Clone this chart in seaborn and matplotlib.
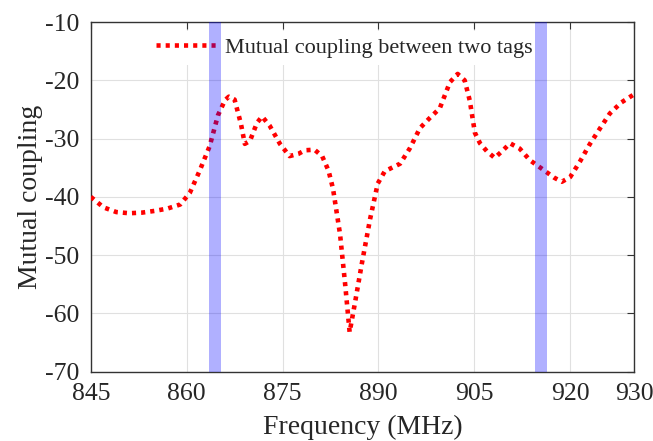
import numpy as np
import pandas as pd
import matplotlib
matplotlib.use("Agg")
import matplotlib.pyplot as plt
import seaborn as sns

# frequency (MHz) and mutual coupling
freq = [845, 847, 849, 851, 853, 855, 857, 859, 860.5, 862, 863.6, 864.9, 866, 866.6,
        867.5, 868.5, 869.1, 869.9, 871, 871.8, 873, 874.6, 876.1, 877.5, 878.5, 880,
        881.2, 882.2, 882.9, 884, 884.8, 885.5, 886.3, 887.4, 888.7, 889.9, 891, 893.4,
        894.9, 896.5, 898, 899.6, 901.2, 902.4, 903.5, 904.3, 905.1, 905.9, 907, 908.2,
        909.5, 910.6, 912.1, 913.7, 916, 917.5, 918.7, 920, 921.5, 923.1, 924.7, 926.2,
        928, 930]
coupling = [-40, -41.8, -42.6, -42.8, -42.7, -42.4, -42, -41.3, -39.3, -35.6, -31.3,
            -26, -23.4, -22.8, -23.3, -27.5, -30.9, -30.4, -27.3, -26.2, -27.8, -30.9,
            -33, -32.6, -32, -31.9, -33, -35.5, -38.6, -46.4, -55, -63.2, -58.4, -51.5,
            -43.8, -37.7, -35.6, -34.3, -31.7, -28.2, -26.5, -24.8, -20.3, -18.9, -20,
            -23.5, -29, -30.8, -32.2, -33.3, -32, -30.8, -31.7, -33.7, -35.5, -36.7,
            -37.4, -36.6, -34, -30.9, -28.2, -25.7, -23.8, -22.4]

bands = [(863.5, 865.3), (914.5, 916.4)]
xticks = [845, 860, 875, 890, 905, 920, 930]
yticks = [-70, -60, -50, -40, -30, -20, -10]

df = pd.DataFrame({"freq": freq, "coupling": coupling})

sns.set_style("white")
plt.rcParams["font.family"] = ["Liberation Serif", "DejaVu Serif"]
plt.rcParams["axes.unicode_minus"] = False
plt.rcParams["xtick.direction"] = "in"
plt.rcParams["ytick.direction"] = "in"

fig = plt.figure(figsize=(6.53, 4.41), dpi=100)
ax = fig.add_axes([0.139, 0.157, 0.832, 0.793])

sns.lineplot(data=df, x="freq", y="coupling", ax=ax, color="red", lw=3.3,
             label="Mutual coupling between two tags", zorder=3)
ax.lines[0].set_dashes((0.9, 1.1))

# shaded bands sit on top of everything, semi transparent
for lo, hi in bands:
    ax.axvspan(lo, hi, color="blue", alpha=0.31, zorder=10, lw=0)

ax.set_xlim(845, 930)
ax.set_ylim(-70, -10)
ax.set_xticks(xticks)
ax.set_yticks(yticks)
ax.grid(True, color="#e0e0e0", lw=0.8, zorder=0)
ax.set_axisbelow(True)
ax.tick_params(labelsize=18.5, length=5, width=0.8, color="#333333",
               top=True, right=True)
ax.tick_params(axis="x", pad=8)
ax.tick_params(axis="y", pad=8)
for s in ax.spines.values():
    s.set_color("#333333")
    s.set_linewidth(1.0)

ax.set_xlabel("Frequency (MHz)", fontsize=20, labelpad=7)
ax.set_ylabel("Mutual coupling", fontsize=20, labelpad=2)

leg = ax.legend(loc="center", bbox_to_anchor=(0.467, 0.927), fontsize=16,
                frameon=True, fancybox=False, handlelength=2.8, handletextpad=0.3,
                borderpad=0.3)
leg.get_frame().set_edgecolor("none")
leg.get_frame().set_facecolor("white")
leg.get_frame().set_alpha(1.0)
leg.set_zorder(5)

fig.savefig("out.png", dpi=100)
